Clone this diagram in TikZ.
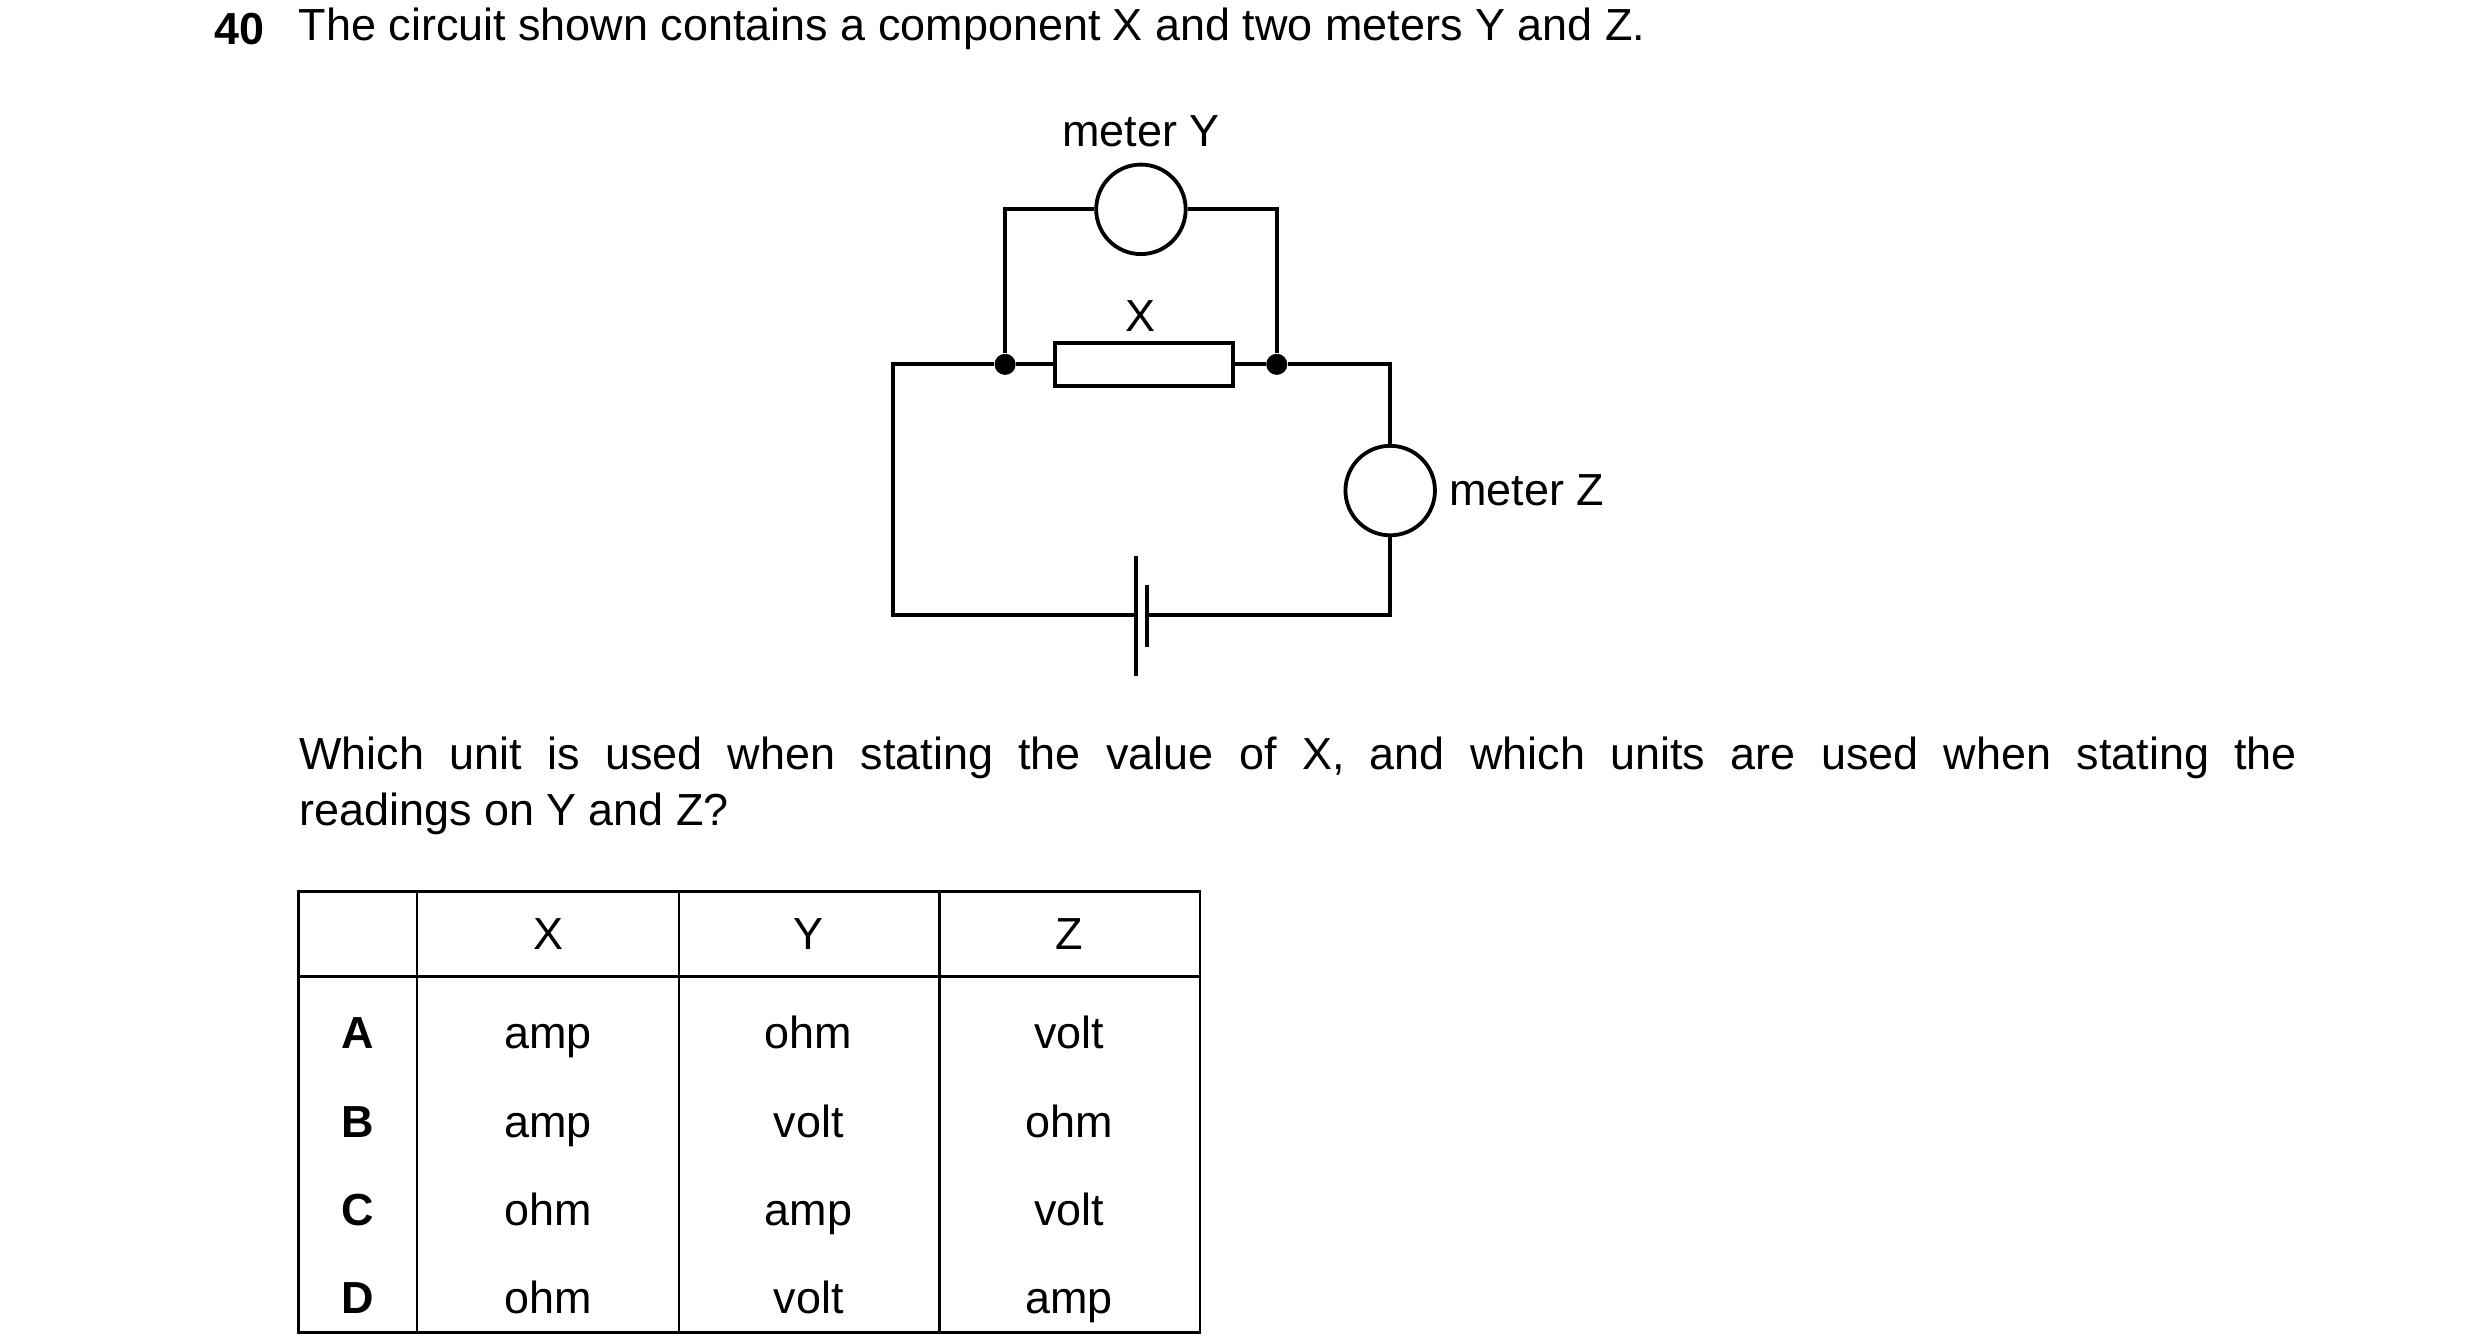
\documentclass[tikz,border=0pt]{standalone}
\usepackage{fontspec}
\setmainfont{Liberation Sans}
\usepackage{tikz}
\usetikzlibrary{positioning}

\begin{document}
\begin{tikzpicture}[x=0.025cm,y=-0.025cm,font=\fontsize{20}{25}\selectfont,
	wire/.style={line width=1.7pt},
	meter/.style={circle,draw,line width=1.7pt,minimum size=1.4cm,inner sep=0pt},
	dot/.style={circle,fill,inner sep=0pt,minimum size=0.33cm},
	grid/.style={line width=1.2pt},
	cell/.style={anchor=base}]
	\useasboundingbox (0,0) rectangle (1552,841);
	% heading and question
	\node[font=\fontsize{20}{25}\selectfont\bfseries,anchor=west] (num) at (129,18) {40};
	\node[anchor=west] (head) at (182,18) {The circuit shown contains a component X and two meters Y and Z.};
	\node[anchor=north west,text width=31.25cm,align=justify,inner sep=0pt] (ask) at (187,461)
		{Which unit is used when stating the value of X, and which units are used when stating the\linebreak readings on Y and Z?};
	%
	% circuit
	\node[meter] (Y) at (714,131) {};
	\node[meter] (Z) at (870,307) {};
	\node (Ylab) at (714,82) {meter Y};
	\node[anchor=west] (Zlab) at (902,307) {meter Z};
	\node[draw,line width=1.7pt,minimum width=2.78cm,minimum height=0.68cm,inner sep=0pt] (X) at (716,228) {};
	\node (Xlab) at (714,198) {X};
	\node[dot] (J1) at (629,228) {};
	\node[dot] (J2) at (799,228) {};
	\coordinate (TL) at (629,131);
	\coordinate (TR) at (799,131);
	\coordinate (L1) at (559,228);
	\coordinate (L2) at (559,385);
	\coordinate (R1) at (870,228);
	\coordinate (R2) at (870,385);
	\coordinate (B1) at (711,385);
	\coordinate (B2) at (718,385);
	\draw[wire] (J1) -- (TL) -- (Y) (Y) -- (TR) -- (J2);
	\draw[wire] (J1) -- (X) (X) -- (J2);
	\draw[wire] (J1) -- (L1) -- (L2) -- (B1);
	\draw[wire] (J2) -- (R1) -- (Z) (Z) -- (R2) -- (B2);
	% cell
	\draw[wire] (711,348) -- (711,423);
	\draw[wire] (718,366) -- (718,405);
	%
	% table
	\draw[grid] (187,558) rectangle (751,834);
	\draw[grid] (187,611) -- (751,611);
	\foreach \xx in {261,425,588}
		\draw[grid] (\xx,558) -- (\xx,834);
	\node[cell] (hX) at (343,594) {X};
	\node[cell] (hY) at (506,594) {Y};
	\node[cell] (hZ) at (669,594) {Z};
	\foreach \key/\ux/\uy/\uz [count=\i] in {A/amp/ohm/volt,B/amp/volt/ohm,C/ohm/amp/volt,D/ohm/volt/amp}{
		\node[cell,font=\fontsize{20}{25}\selectfont\bfseries] (k\i) at (224,601+55.3*\i) {\key};
		\node[cell] (x\i) at (343,601+55.3*\i) {\ux};
		\node[cell] (y\i) at (506,601+55.3*\i) {\uy};
		\node[cell] (z\i) at (669,601+55.3*\i) {\uz};
	}
\end{tikzpicture}
\end{document}
